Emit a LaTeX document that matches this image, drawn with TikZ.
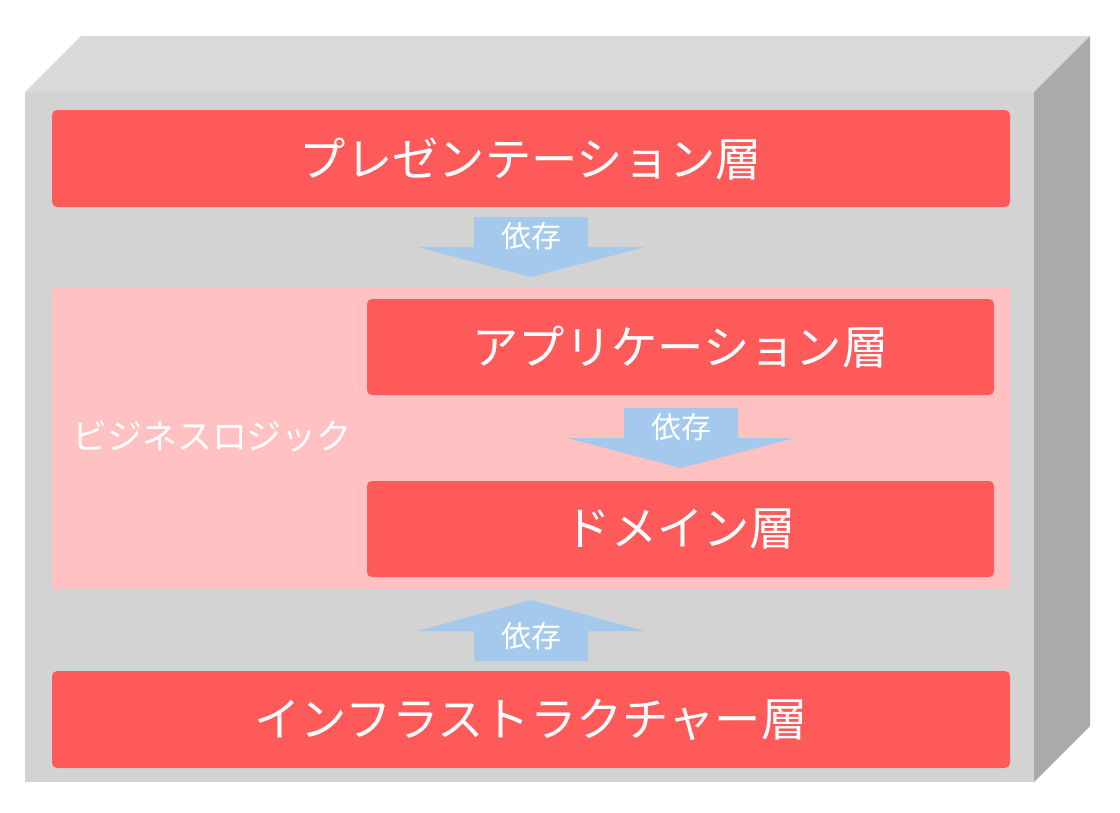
\documentclass[tikz,border=0pt]{standalone}
\usepackage{fontspec}
\setmainfont{Noto Sans CJK JP}
\definecolor{layerred}{HTML}{FF5A5A}
\definecolor{frontgray}{HTML}{D3D3D3}
\definecolor{topgray}{HTML}{D9D9D9}
\definecolor{sidegray}{HTML}{AAAAAA}
\definecolor{bizpink}{HTML}{FFC1C1}
\definecolor{depblue}{HTML}{A5C9EC}
\tikzset{
  layerbox/.style={fill=layerred, rounded corners=5pt, text=white, font=\fontsize{46.3}{50}\selectfont, inner sep=0pt},
  bizbox/.style={fill=bizpink, rounded corners=3pt, inner sep=0pt},
  deparrow/.style={fill=depblue},
  deplabel/.style={text=white, font=\fontsize{30}{33}\selectfont, inner sep=0pt},
  biztext/.style={text=white, font=\fontsize{35}{38}\selectfont, inner sep=0pt}
}
\begin{document}
\begin{tikzpicture}[x=1pt,y=-1pt]
\useasboundingbox (0,0) rectangle (1120,812);
% 3D box
\fill[topgray] (25,92) -- (81,36) -- (1090,36) -- (1034,92) -- cycle;
\fill[sidegray] (1034,92) -- (1090,36) -- (1090,726) -- (1034,782) -- cycle;
\fill[frontgray] (25,92) rectangle (1034,782);
% layers
\node[layerbox, minimum width=958pt, minimum height=97pt] (pres) at (531,158.5) {プレゼンテーション層};
\node[bizbox, minimum width=958pt, minimum height=301pt] (biz) at (531,438.5) {};
\node[biztext] (bizlabel) at (212,436) {ビジネスロジック};
\node[layerbox, minimum width=627pt, minimum height=96pt] (app) at (680.5,347) {アプリケーション層};
\node[layerbox, minimum width=627pt, minimum height=96pt] (dom) at (680.5,529) {ドメイン層};
\node[layerbox, minimum width=958pt, minimum height=97pt] (infra) at (531,719.5) {インフラストラクチャー層};
% dependency arrows
\fill[deparrow] (474,217) -- (588,217) -- (588,247) -- (645,247) -- (531,277) -- (417,247) -- (474,247) -- cycle;
\node[deplabel] (dep1) at (531,236) {依存};
\fill[deparrow] (624,408) -- (738,408) -- (738,438) -- (795,438) -- (681,468) -- (567,438) -- (624,438) -- cycle;
\node[deplabel] (dep2) at (681,427) {依存};
\fill[deparrow] (474,661) -- (588,661) -- (588,631) -- (645,631) -- (531,600) -- (417,631) -- (474,631) -- cycle;
\node[deplabel] (dep3) at (531,636) {依存};
\end{tikzpicture}
\end{document}
